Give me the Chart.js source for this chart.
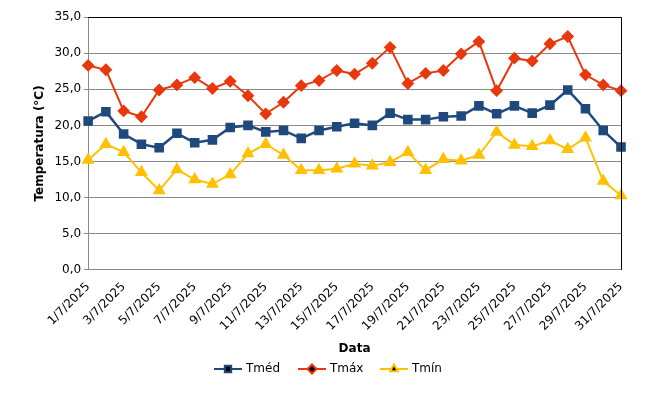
<!DOCTYPE html>
<html><head><meta charset="utf-8">
<script src="https://cdn.jsdelivr.net/npm/chart.js@4"></script>
<style>body{margin:0;background:#fff}#wrap{width:665px;height:400px}</style>
</head><body><div id="wrap"><canvas id="c"></canvas></div>
<script>
const labels = [];
for (let d = 1; d <= 31; d++) labels.push(d + '/7/2025');
const tmed = [20.6,21.9,18.8,17.4,16.9,18.9,17.6,18.0,19.7,20.0,19.1,19.3,18.2,19.3,19.8,20.3,20.0,21.7,20.8,20.8,21.2,21.3,22.7,21.6,22.7,21.7,22.8,24.9,22.3,19.3,17.0];
const tmax = [28.3,27.7,22.0,21.2,24.9,25.6,26.6,25.1,26.1,24.1,21.6,23.2,25.5,26.2,27.6,27.1,28.6,30.8,25.8,27.2,27.6,29.9,31.6,24.8,29.3,28.9,31.3,32.3,27.0,25.6,24.8];
const tmin = [15.2,17.4,16.3,13.5,11.0,13.9,12.5,11.9,13.2,16.1,17.4,15.9,13.8,13.8,14.0,14.7,14.4,14.9,16.3,13.8,15.3,15.1,15.9,19.1,17.3,17.1,17.9,16.7,18.3,12.3,10.3];

// top/right frame plus an Excel-style legend (line through marker)
const frame = {
  id: 'frame',
  afterDraw(chart) {
    const a = chart.chartArea, ctx = chart.ctx;
    ctx.save();
    ctx.strokeStyle = '#000'; ctx.lineWidth = 1;
    ctx.beginPath();
    ctx.moveTo(a.left, a.top + 0.5); ctx.lineTo(a.right + 0.5, a.top + 0.5); ctx.lineTo(a.right + 0.5, a.bottom);
    ctx.stroke();

    const xs = [214, 298, 380], y = 369;
    ctx.font = '12px "DejaVu Sans"'; ctx.textBaseline = 'middle'; ctx.fillStyle = '#000';
    chart.data.datasets.forEach((ds, i) => {
      const x = xs[i];
      ctx.strokeStyle = ds.borderColor; ctx.lineWidth = 2;
      ctx.beginPath(); ctx.moveTo(x, y); ctx.lineTo(x + 28, y); ctx.stroke();
      Chart.helpers.drawPoint(ctx, { pointStyle: ds.pointStyle, radius: 4.5, borderWidth: 1 }, x + 14, y);
      ctx.fillStyle = '#000';
      ctx.fillText(ds.label, x + 32, y);
    });
    ctx.restore();
  }
};

Chart.defaults.font.family = 'DejaVu Sans';
Chart.defaults.font.size = 12;
Chart.defaults.color = '#000';

new Chart(document.getElementById('c'), {
  type: 'line',
  data: {
    labels: labels,
    datasets: [
      { label: 'Tméd', data: tmed, borderColor: '#1F497D', backgroundColor: '#1F497D', pointStyle: 'rect', pointRadius: 5, borderWidth: 2.5, tension: 0 },
      { label: 'Tmáx', data: tmax, borderColor: '#E8380D', backgroundColor: '#E8380D', pointStyle: 'rectRot', pointRadius: 5, borderWidth: 2, tension: 0 },
      { label: 'Tmín', data: tmin, borderColor: '#FFC000', backgroundColor: '#FFC000', pointStyle: 'triangle', pointRadius: 5.5, borderWidth: 2, tension: 0 }
    ]
  },
  options: {
    responsive: true, maintainAspectRatio: false, animation: false,
    layout: { padding: { top: 17, right: 44, bottom: 40, left: 29 } },
    plugins: {
      legend: { display: false },
      tooltip: { enabled: false }
    },
    scales: {
      x: {
        offset: false,
        grid: { display: false },
        border: { color: '#888' },
        ticks: { autoSkip: false, maxRotation: 45, minRotation: 45, padding: 2,
          callback: function (v, i) { return i % 2 === 0 ? labels[i] : ''; } },
        title: { display: true, text: 'Data', font: { weight: 'bold', size: 12 }, padding: { top: 6 } }
      },
      y: {
        min: 0, max: 35,
        ticks: { stepSize: 5, callback: (v) => v.toFixed(1).replace('.', ',') },
        grid: { color: '#888', drawTicks: true, tickLength: 4 },
        border: { color: '#888' },
        title: { display: true, text: 'Temperatura (°C)', font: { weight: 'bold', size: 12 } }
      }
    }
  },
  plugins: [frame]
});
</script></body></html>
